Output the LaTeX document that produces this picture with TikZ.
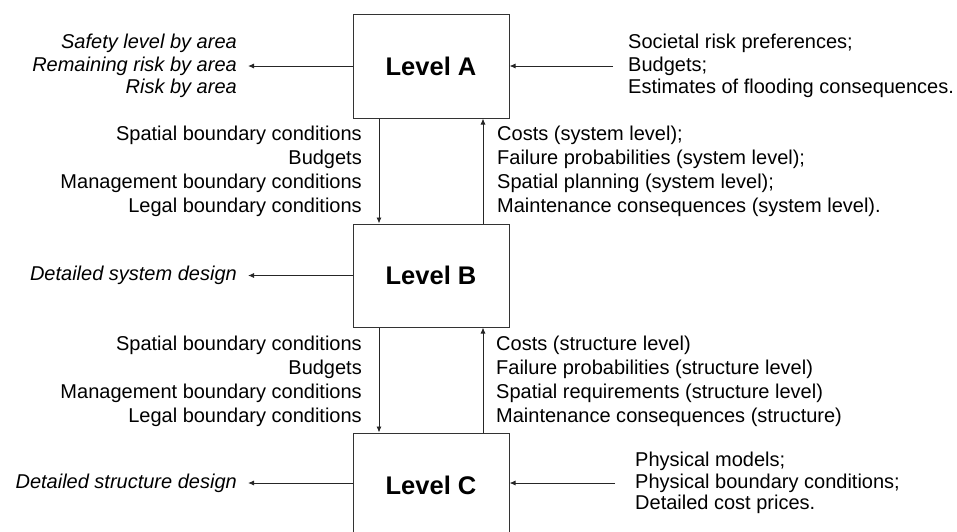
\documentclass[tikz,border=0pt]{standalone}
\usepackage{fontspec}
\setmainfont{Liberation Sans}
\usetikzlibrary{arrows.meta}
\begin{document}
\begin{tikzpicture}[x=1pt,y=-1pt,
  level/.style={draw=black!80, line width=1pt, minimum width=156pt,
    minimum height=104pt, inner sep=0pt,
    font=\fontsize{25.5}{30}\selectfont\bfseries},
  txt/.style={inner sep=0pt, font=\fontsize{20}{22.5}\selectfont},
  txtmid/.style={inner sep=0pt, font=\fontsize{20}{24}\selectfont},
  outtxt/.style={inner sep=0pt, align=right, anchor=east,
    font=\fontsize{20}{22.5}\selectfont\itshape},
  flow/.style={line width=0.9pt, draw=black!85, -{Latex[length=6pt,width=5pt]}}
]
% page frame; the lowest box runs past the bottom edge
\path[use as bounding box, clip] (0,0) rectangle (957,531);

% the three levels
\node[level] (A) at (431,66) {Level A};
\node[level, minimum height=103pt] (B) at (431,275.5) {Level B};
\node[level] (C) at (431,485) {Level C};

% results of each level (left)
\node[outtxt] (outA) at (237,66) {Safety level by area\\Remaining risk by area\\Risk by area};
\node[outtxt] (outB) at (237,275.5) {Detailed system design};
\node[outtxt] (outC) at (237,483) {Detailed structure design};
\coordinate (tA) at (248,66);
\coordinate (tB) at (248,275.5);
\coordinate (tC) at (248,483);
\draw[flow] (A.west) -- (tA);
\draw[flow] (B.west) -- (tB);
\draw[flow] (C.west |- tC) -- (tC);

% external inputs (right)
\node[txt, align=left, anchor=west] (inA) at (628,66)
  {Societal risk preferences;\\Budgets;\\Estimates of flooding consequences.};
\node[txt, align=left, anchor=west, font=\fontsize{20}{21.5}\selectfont] (inC) at (635,483)
  {Physical models;\\Physical boundary conditions;\\Detailed cost prices.};
\coordinate (sA) at (613,66);
\coordinate (sC) at (615,483);
\draw[flow] (sA) -- (A.east);
\draw[flow] (sC) -- (C.east |- sC);

% A <-> B
\node[txtmid, align=right, anchor=east] (dAB) at (362,171)
  {Spatial boundary conditions\\Budgets\\Management boundary conditions\\Legal boundary conditions};
\node[txtmid, align=left, anchor=west] (uAB) at (497,171)
  {Costs (system level);\\Failure probabilities (system level);\\Spatial planning (system level);\\Maintenance consequences (system level).};
\draw[flow] ([xshift=-52pt]A.south) -- ([xshift=-52pt]B.north);
\draw[flow] ([xshift=52pt]B.north) -- ([xshift=52pt]A.south);

% B <-> C
\node[txtmid, align=right, anchor=east] (dBC) at (362,381)
  {Spatial boundary conditions\\Budgets\\Management boundary conditions\\Legal boundary conditions};
\node[txtmid, align=left, anchor=west] (uBC) at (496,381)
  {Costs (structure level)\\Failure probabilities (structure level)\\Spatial requirements (structure level)\\Maintenance consequences (structure)};
\draw[flow] ([xshift=-52pt]B.south) -- ([xshift=-52pt]C.north);
\draw[flow] ([xshift=52pt]C.north) -- ([xshift=52pt]B.south);
\end{tikzpicture}
\end{document}
